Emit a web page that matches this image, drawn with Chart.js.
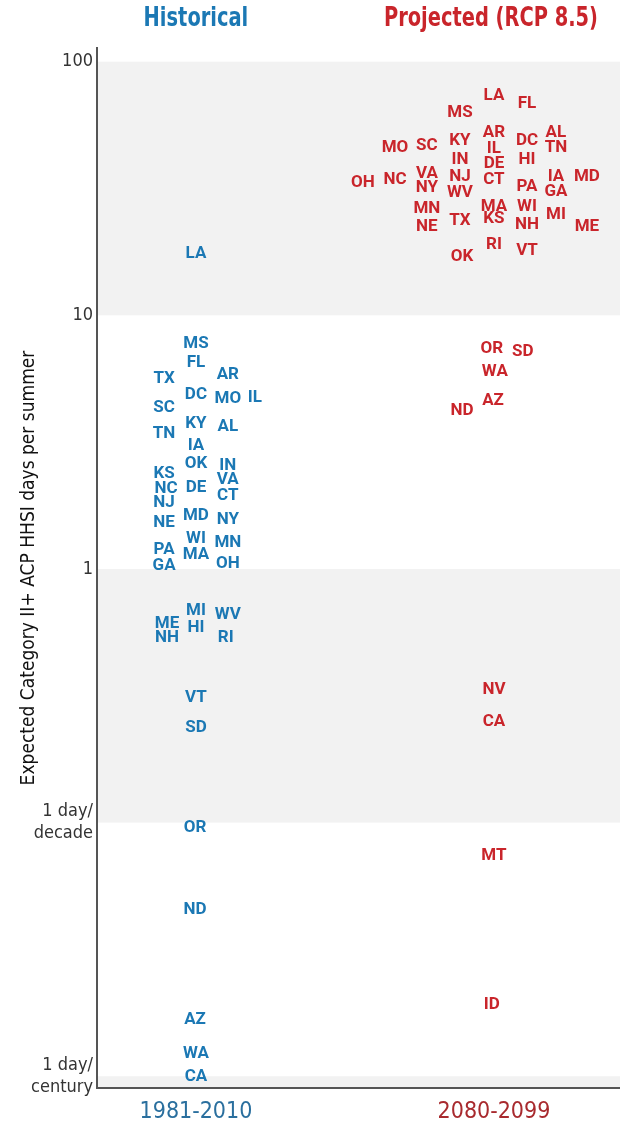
<!DOCTYPE html>
<html>
<head>
<meta charset="utf-8">
<script src="https://cdn.jsdelivr.net/npm/chart.js@4.4.0/dist/chart.umd.min.js"></script>
<style>
  body { margin: 0; background: #fff; }
  canvas { display: block; }
</style>
</head>
<body>
<canvas id="heatChart" width="620" height="1127"></canvas>
<script>
const periods = ['1981-2010', '2080-2099'];
const headers = ['Historical', 'Projected (RCP 8.5)'];

const yTicks = [0.01, 0.1, 1, 10, 100];
const yTickLabels = [['1 day/', 'century'], ['1 day/', 'decade'], '1', '10', '100'];

// historical: state, x (0 = 1981-2010 column, offsets are the beeswarm spread), days per summer
const histStates = ['LA', 'MS', 'FL', 'AR', 'TX', 'DC', 'MO', 'IL', 'SC', 'KY', 'AL', 'TN', 'IA', 'OK', 'IN',
  'KS', 'VA', 'NC', 'DE', 'CT', 'NJ', 'MD', 'NY', 'NE', 'WI', 'MN', 'PA', 'MA', 'OH', 'GA',
  'MI', 'WV', 'ME', 'HI', 'NH', 'RI', 'VT', 'SD', 'OR', 'ND', 'AZ', 'WA', 'CA'];
const histX = [0, 0, 0, 0.107, -0.107, 0, 0.107, 0.198, -0.107, 0, 0.107, -0.107, 0, 0, 0.107,
  -0.107, 0.107, -0.1, 0, 0.107, -0.107, 0, 0.107, -0.107, 0, 0.107, -0.107, 0, 0.107, -0.107,
  0, 0.107, -0.097, 0, -0.097, 0.1, 0, 0, -0.003, -0.003, -0.003, 0, 0];
const histValues = [17.5, 7.75, 6.53, 5.84, 5.63, 4.87, 4.69, 4.74, 4.33, 3.72, 3.64, 3.42, 3.06, 2.60, 2.56,
  2.38, 2.25, 2.07, 2.09, 1.95, 1.83, 1.62, 1.56, 1.52, 1.31, 1.27, 1.19, 1.14, 1.05, 1.03,
  0.685, 0.661, 0.609, 0.587, 0.536, 0.536, 0.311, 0.237, 0.0956, 0.0454, 0.0167, 0.0123, 0.00997];

// projected (RCP 8.5), centred on x = 1
const projStates = ['LA', 'FL', 'MS', 'AR', 'AL', 'KY', 'DC', 'MO', 'SC', 'IL', 'TN', 'IN', 'HI', 'DE',
  'VA', 'NJ', 'IA', 'MD', 'OH', 'NC', 'CT', 'NY', 'PA', 'GA', 'WV', 'MN', 'MA', 'WI', 'MI',
  'TX', 'KS', 'NE', 'NH', 'ME', 'RI', 'VT', 'OK', 'OR', 'SD', 'WA', 'AZ', 'ND', 'NV', 'CA', 'MT', 'ID'];
const projX = [1, 1.111, 0.886, 1, 1.208, 0.886, 1.111, 0.668, 0.775, 1, 1.208, 0.886, 1.111, 1,
  0.775, 0.886, 1.208, 1.312, 0.56, 0.668, 1, 0.775, 1.111, 1.208, 0.886, 0.775, 1, 1.111, 1.208,
  0.886, 1, 0.775, 1.111, 1.312, 1, 1.111, 0.893, 0.993, 1.097, 1.003, 0.997, 0.893, 1, 1, 1, 0.993];
const projValues = [73.4, 68.5, 63.1, 52.6, 52.6, 48.8, 48.8, 45.7, 46.4, 45.5, 45.7, 41.0, 41.0, 39.5,
  36.3, 35.3, 35.3, 35.2, 33.4, 34.2, 34.3, 31.7, 32.2, 30.8, 30.5, 26.4, 26.8, 26.8, 24.9,
  23.6, 24.1, 22.4, 22.8, 22.4, 19.0, 18.0, 17.0, 7.37, 7.21, 6.01, 4.61, 4.21, 0.334, 0.250, 0.0741, 0.0192];

const BLUE = '#1b78b4';
const RED = '#c9252b';
const NARROW = "'Liberation Sans Narrow', 'DejaVu Sans Condensed', sans-serif";

const bandsPlugin = {
  id: 'bands',
  beforeDraw(chart) {
    const { ctx, chartArea } = chart;
    const y = chart.scales.y;
    const bands = [[10, 100], [0.1, 1], [y.min, 0.01]];
    ctx.save();
    ctx.fillStyle = '#f2f2f2';
    bands.forEach(([lo, hi]) => {
      const top = y.getPixelForValue(hi);
      const bottom = y.getPixelForValue(lo);
      ctx.fillRect(chartArea.left, top, chartArea.right - chartArea.left, bottom - top);
    });
    ctx.restore();
  }
};

// squeeze text sideways to get the condensed look of the original
function narrowText(ctx, text, x, y, squeeze) {
  ctx.save();
  ctx.translate(x, y);
  ctx.scale(squeeze, 1);
  ctx.fillText(text, 0, 0);
  ctx.restore();
}

const labelsPlugin = {
  id: 'stateLabels',
  afterDatasetsDraw(chart) {
    const { ctx } = chart;
    const names = [histStates, projStates];
    ctx.save();
    ctx.font = "bold 17px Roboto, 'Liberation Sans', sans-serif";
    ctx.textAlign = 'center';
    ctx.textBaseline = 'middle';
    chart.data.datasets.forEach((ds, di) => {
      ctx.fillStyle = ds.textColor;
      chart.getDatasetMeta(di).data.forEach((pt, i) => {
        ctx.fillText(names[di][i], pt.x, pt.y);
      });
    });
    ctx.restore();
  },
  afterDraw(chart) {
    const { ctx } = chart;
    const x = chart.scales.x;
    ctx.save();
    ctx.font = 'bold 27px ' + NARROW;
    ctx.textAlign = 'center';
    ctx.textBaseline = 'middle';
    ctx.fillStyle = BLUE;
    narrowText(ctx, headers[0], x.getPixelForValue(0), 19, 0.8);
    ctx.fillStyle = RED;
    narrowText(ctx, headers[1], x.getPixelForValue(1) - 3, 19, 0.8);
    ctx.restore();
  }
};

new Chart(document.getElementById('heatChart'), {
  type: 'scatter',
  data: {
    datasets: [
      {
        label: 'Historical',
        data: histX.map((x, i) => ({ x, y: histValues[i] })),
        textColor: BLUE,
        pointRadius: 0,
        hoverRadius: 0
      },
      {
        label: 'Projected',
        data: projX.map((x, i) => ({ x, y: projValues[i] })),
        textColor: RED,
        pointRadius: 0,
        hoverRadius: 0
      }
    ]
  },
  options: {
    responsive: false,
    animation: false,
    devicePixelRatio: 1,
    layout: { padding: { top: 48, left: 0, right: 0, bottom: 0 } },
    plugins: {
      legend: { display: false },
      tooltip: { enabled: false }
    },
    scales: {
      x: {
        type: 'linear',
        min: -0.332,
        max: 1.423,
        grid: { display: false, drawTicks: false },
        border: { color: '#555', width: 2 },
        afterBuildTicks: axis => { axis.ticks = [{ value: 0 }, { value: 1 }]; },
        afterFit: axis => { axis.height = 39; },
        ticks: {
          autoSkip: false,
          maxRotation: 0,
          padding: 10,
          font: { family: NARROW, size: 23 },
          color: c => (c.tick && c.tick.value === 1 ? '#a82a2e' : '#2a6f9e'),
          callback: v => periods[v]
        }
      },
      y: {
        type: 'logarithmic',
        min: 0.00899,
        max: 113.2,
        grid: { display: false, drawTicks: false },
        border: { color: '#555', width: 2 },
        afterBuildTicks: axis => { axis.ticks = yTicks.map(v => ({ value: v })); },
        afterFit: axis => { axis.width = 97; },
        ticks: {
          autoSkip: false,
          padding: 4,
          font: { family: NARROW, size: 18 },
          color: '#333',
          callback: v => yTickLabels[yTicks.indexOf(v)]
        },
        title: {
          display: true,
          text: 'Expected Category II+ ACP HHSI days per summer',
          font: { family: NARROW, size: 19 },
          color: '#111',
          padding: { top: 18, bottom: 0 }
        }
      }
    }
  },
  plugins: [bandsPlugin, labelsPlugin]
});
</script>
</body>
</html>
